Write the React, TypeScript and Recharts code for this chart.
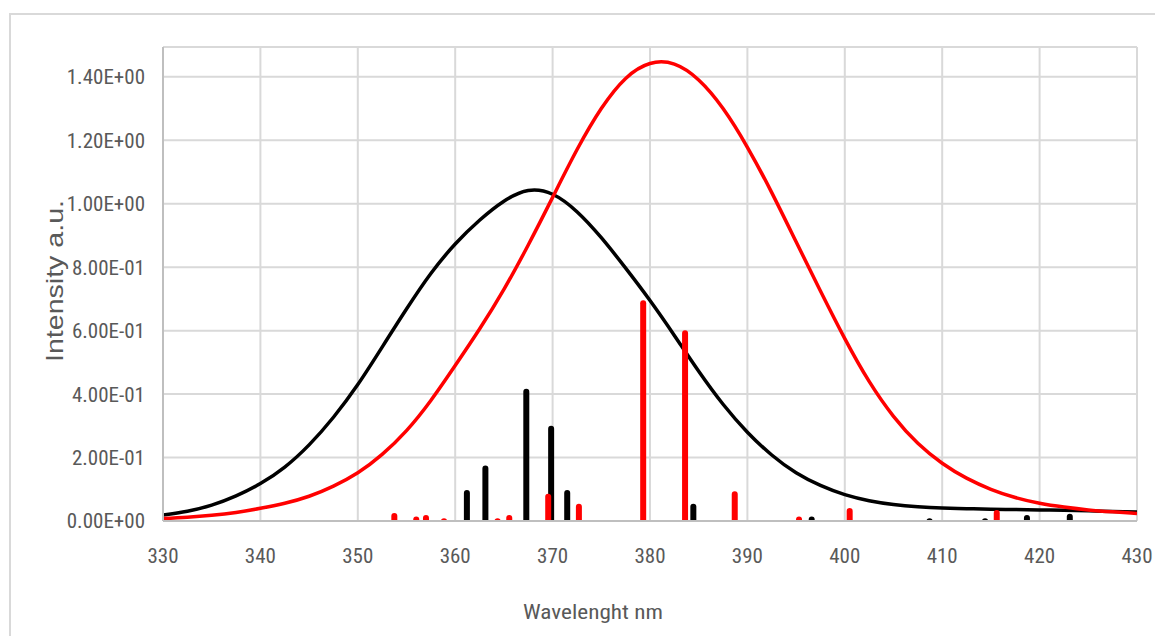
import React from 'react';
import { CartesianGrid, ComposedChart, Line, ReferenceLine, XAxis, YAxis } from 'recharts';

// broadened spectra, sampled every 2.5 nm
const wavelengths = [
  330, 332.5, 335, 337.5, 340, 342.5, 345, 347.5, 350, 352.5, 355, 357.5, 360, 362.5, 365, 367.5, 370,
  372.5, 375, 377.5, 380, 382.5, 385, 387.5, 390, 392.5, 395, 397.5, 400, 402.5, 405, 407.5, 410,
  412.5, 415, 417.5, 420, 422.5, 425, 427.5, 430,
];
const blackCurve = [
  0.019, 0.031, 0.05, 0.079, 0.118, 0.17, 0.24, 0.327, 0.43, 0.548, 0.668, 0.78, 0.873, 0.948, 1.008,
  1.042, 1.03, 0.975, 0.893, 0.797, 0.695, 0.585, 0.472, 0.368, 0.28, 0.208, 0.152, 0.112, 0.083,
  0.064, 0.052, 0.045, 0.041, 0.039, 0.037, 0.036, 0.035, 0.034, 0.032, 0.03, 0.028,
];
const redCurve = [
  0.008, 0.012, 0.018, 0.027, 0.04, 0.056, 0.078, 0.11, 0.152, 0.21, 0.285, 0.38, 0.49, 0.605,
  0.73, 0.87, 1.02, 1.17, 1.3, 1.395, 1.442, 1.44, 1.39, 1.3, 1.178, 1.035, 0.88, 0.725, 0.575, 0.44,
  0.33, 0.245, 0.182, 0.135, 0.1, 0.074, 0.056, 0.044, 0.035, 0.029, 0.024,
];

// stick spectra (transition position, intensity)
const blackStickPos = [361.2, 363.1, 367.3, 369.85, 371.5, 384.45, 396.6, 408.7, 414.4, 418.7, 423.1];
const blackStickVal = [0.098, 0.175, 0.417, 0.3, 0.098, 0.054, 0.014, 0.009, 0.009, 0.019, 0.023];
const redStickPos = [
  353.75, 356.0, 357.0, 358.85, 364.35, 365.55, 369.55, 372.7, 379.3, 383.6, 388.7, 395.3, 400.5, 415.6,
];
const redStickVal = [
  0.025, 0.014, 0.019, 0.009, 0.009, 0.019, 0.086, 0.054, 0.696, 0.601, 0.094, 0.014, 0.041, 0.035,
];

const xTicks = [330, 340, 350, 360, 370, 380, 390, 400, 410, 420, 430];
const yTicks = [0, 0.2, 0.4, 0.6, 0.8, 1.0, 1.2, 1.4];

const rows = wavelengths.map((x, i) => ({ x, black: blackCurve[i], red: redCurve[i] }));

const sci = (v: number) => {
  const [m, e] = v.toExponential(2).split('e');
  const sign = e.startsWith('-') ? '-' : '+';
  return `${m}E${sign}${e.replace(/[+-]/, '').padStart(2, '0')}`;
};

const narrow = "'Liberation Sans Narrow', 'Roboto Condensed', 'Liberation Sans', sans-serif";
const grey = '#595959';

// 6px stick with a rounded top, drawn between the scaled segment ends
const stick = (color: string) => (p: any) => {
  const x = p.x1;
  const top = Math.min(p.y1, p.y2);
  const bottom = Math.max(p.y1, p.y2);
  const r = Math.min(3, bottom - top);
  const d = `M${x - 3},${bottom} L${x - 3},${top + r} A3,${r} 0 0 1 ${x + 3},${top + r} L${x + 3},${bottom} Z`;
  return <path d={d} fill={color} />;
};

const sticks = (pos: number[], val: number[], color: string, key: string) =>
  pos.map((x, i) => (
    <ReferenceLine
      key={`${key}${i}`}
      segment={[
        { x, y: 0 },
        { x, y: val[i] },
      ]}
      shape={stick(color)}
    />
  ));

export default function App() {
  return (
    <div style={{ position: 'relative', width: 1147, height: 628, overflow: 'hidden' }}>
      <div
        style={{
          position: 'absolute',
          left: 1,
          top: 5,
          width: 1300,
          height: 800,
          border: '2px solid #d9d9d9',
        }}
      />
      <ComposedChart
        style={{ position: 'absolute', left: 0, top: 0 }}
        width={1147}
        height={628}
        data={rows}
        margin={{ top: 39, right: 18, left: 0, bottom: 0 }}>
        <CartesianGrid stroke='#d9d9d9' strokeWidth={2} />
        <XAxis
          dataKey='x'
          type='number'
          domain={[330, 430]}
          ticks={xTicks}
          allowDataOverflow
          height={115}
          tickLine={false}
          tickSize={0}
          tickMargin={27}
          axisLine={{ stroke: '#bfbfbf', strokeWidth: 2 }}
          tick={{ fill: grey, fontSize: 21, fontFamily: narrow }}
        />
        <YAxis
          type='number'
          domain={[0, 1.494]}
          ticks={yTicks}
          allowDataOverflow
          width={155}
          tickLine={false}
          tickSize={0}
          tickMargin={18}
          tickFormatter={sci}
          axisLine={{ stroke: '#bfbfbf', strokeWidth: 2 }}
          tick={{ fill: grey, fontSize: 21, fontFamily: narrow }}
        />
        <Line
          dataKey='black'
          type='natural'
          stroke='#000000'
          strokeWidth={3.5}
          dot={false}
          activeDot={false}
          isAnimationActive={false}
        />
        <Line
          dataKey='red'
          type='natural'
          stroke='#ff0000'
          strokeWidth={3.5}
          dot={false}
          activeDot={false}
          isAnimationActive={false}
        />
        {sticks(blackStickPos, blackStickVal, '#000000', 'b')}
        {sticks(redStickPos, redStickVal, '#ff0000', 'r')}
      </ComposedChart>
      <svg
        width={1147}
        height={628}
        style={{ position: 'absolute', left: 0, top: 0, pointerEvents: 'none' }}>
        <text
          x={585}
          y={611}
          textAnchor='middle'
          fill={grey}
          fontSize={21}
          fontFamily={narrow}
          textLength={140}
          lengthAdjust='spacingAndGlyphs'>
          Wavelenght nm
        </text>
        <text
          x={55}
          y={273}
          transform='rotate(-90, 55, 273)'
          textAnchor='middle'
          fill={grey}
          fontSize={24}
          fontFamily="'Liberation Sans', Arial, sans-serif"
          textLength={162}
          lengthAdjust='spacingAndGlyphs'>
          Intensity a.u.
        </text>
      </svg>
    </div>
  );
}
